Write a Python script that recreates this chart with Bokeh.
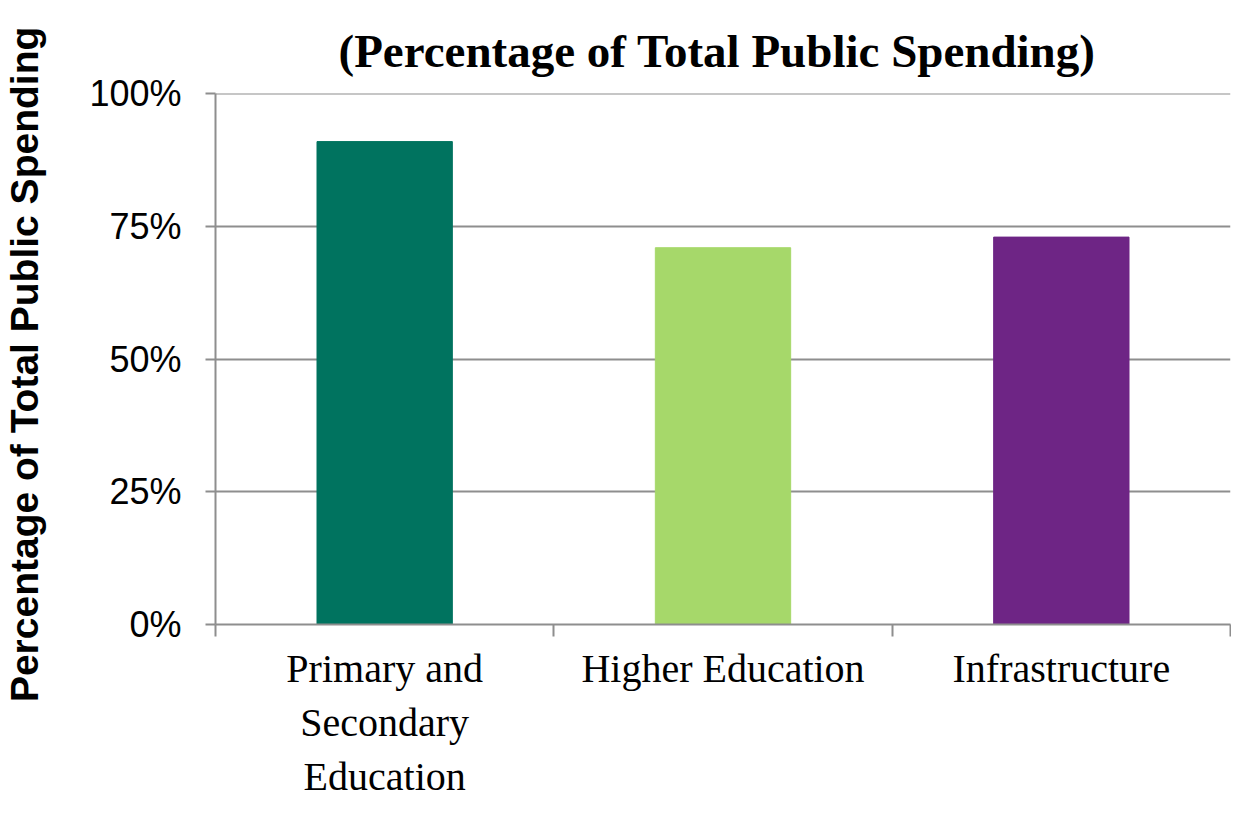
import numpy as np
from bokeh.plotting import figure
from bokeh.models import Range1d, FixedTicker, NumeralTickFormatter
from bokeh.embed import file_html
from bokeh.resources import INLINE

# ---- data ----
categories = ["Primary and\nSecondary\nEducation", "Higher Education", "Infrastructure"]
values = [0.91, 0.71, 0.73]
colors = ["#00735F", "#A6D86A", "#6E2585"]
y_ticks = [0, 0.25, 0.5, 0.75, 1.0]
title_text = "(Percentage of  Total Public Spending)"
y_label = "Percentage of Total  Public Spending"

xc = [i + 0.5 for i in range(len(categories))]
bounds = list(range(len(categories) + 1))

p = figure(width=1231, height=801, output_backend="svg", toolbar_location=None,
           x_range=Range1d(0, len(categories)), y_range=Range1d(0, 1.0006),
           title=title_text)
p.min_border_left = 215
p.min_border_right = 1
p.min_border_top = 93
p.min_border_bottom = 177
p.outline_line_color = None
p.background_fill_color = "white"
p.border_fill_color = "white"

p.title.align = "center"
p.title.vertical_align = "top"
p.title.text_font = "Liberation Serif"
p.title.text_font_style = "bold"
p.title.text_font_size = "47px"
p.title.text_line_height = 1.0
p.title.text_color = "black"
p.title.standoff = 30

p.vbar(x=xc, top=values, width=0.4, color=colors)

grey = "#8E8E8E"
# y axis
yax = p.yaxis[0]
yax.ticker = FixedTicker(ticks=y_ticks, minor_ticks=[])
yax.formatter = NumeralTickFormatter(format="0%")
yax.axis_line_color = grey
yax.axis_line_width = 2
yax.major_tick_line_color = grey
yax.major_tick_line_width = 2
yax.major_tick_out = 10
yax.major_tick_in = 0
yax.minor_tick_line_color = None
yax.major_label_text_font = "Liberation Sans"
yax.major_label_text_font_size = "36px"
yax.major_label_text_color = "black"
yax.major_label_standoff = 24
yax.axis_label = y_label
yax.axis_label_text_font = "Liberation Sans"
yax.axis_label_text_font_style = "bold"
yax.axis_label_text_font_size = "39px"
yax.axis_label_text_color = "black"
yax.axis_label_standoff = 40

# x axis: category labels at centres, ticks at boundaries
xax = p.xaxis[0]
xax.ticker = FixedTicker(ticks=xc, minor_ticks=bounds)
xax.major_label_overrides = {x: c for x, c in zip(xc, categories)}
xax.axis_line_color = grey
xax.axis_line_width = 2
xax.minor_tick_line_color = grey
xax.minor_tick_line_width = 2
xax.minor_tick_out = 12
xax.minor_tick_in = 0
xax.major_tick_line_color = None
xax.major_tick_out = 0
xax.major_tick_in = 0
xax.major_label_text_font = "Liberation Serif"
xax.major_label_text_font_size = "40px"
xax.major_label_text_line_height = 1.2
xax.major_label_text_color = "black"
xax.major_label_standoff = 9

p.xgrid.grid_line_color = None
p.ygrid.ticker = FixedTicker(ticks=y_ticks)
p.ygrid.grid_line_color = grey
p.ygrid.grid_line_width = 2

open("out.html", "w").write(file_html(p, INLINE))
